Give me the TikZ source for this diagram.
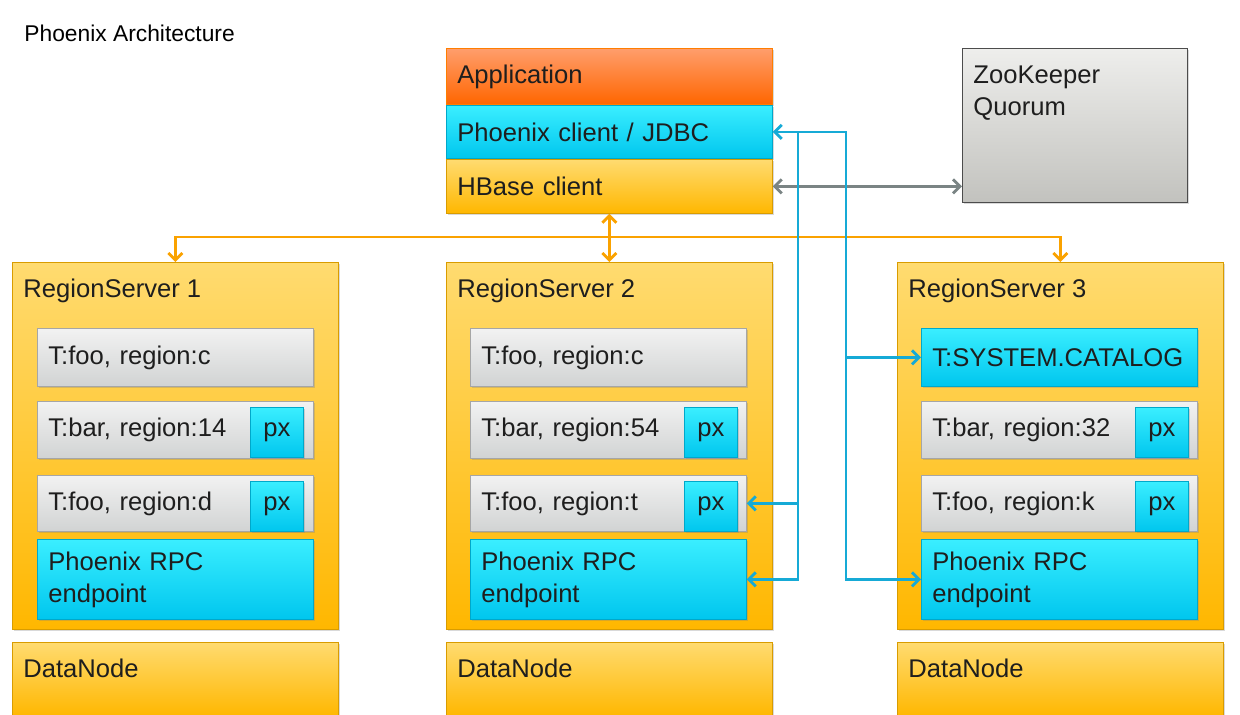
\documentclass[tikz,border=0pt]{standalone}
\usepackage{fontspec}
\setmainfont{Liberation Sans}
\usetikzlibrary{arrows.meta,shadows}

\definecolor{applight}{RGB}{255,158,108}
\definecolor{appdark}{RGB}{255,102,0}
\definecolor{cyanlight}{RGB}{58,238,255}
\definecolor{cyandark}{RGB}{0,198,238}
\definecolor{goldlight}{RGB}{255,219,112}
\definecolor{golddark}{RGB}{255,183,0}
\definecolor{greylight}{RGB}{242,242,242}
\definecolor{greydark}{RGB}{209,211,211}
\definecolor{zklight}{RGB}{238,238,236}
\definecolor{zkdark}{RGB}{194,194,190}
\definecolor{linkblue}{RGB}{22,170,214}
\definecolor{busorange}{RGB}{250,162,0}
\definecolor{zkgrey}{RGB}{122,132,132}
\definecolor{inkgrey}{RGB}{30,30,30}

\begin{document}
\begin{tikzpicture}[x=0.5pt, y=-0.5pt,
    txt/.style={font=\fontsize{12.8}{16}\selectfont, text=inkgrey},
    box/.style={rectangle, anchor=north west, inner xsep=5.5pt, inner ysep=0pt,
        align=left, txt, drop shadow={shadow xshift=0.7pt, shadow yshift=-0.9pt, opacity=0.3}},
    topbox/.style={box, minimum width=163pt, text width=152pt},
    rowbox/.style={box, minimum width=138pt, text width=127pt},
    appfill/.style={top color=applight, bottom color=appdark, draw=appdark!85!yellow},
    bluefill/.style={top color=cyanlight, bottom color=cyandark, draw=cyandark!85!black},
    goldfill/.style={top color=goldlight, bottom color=golddark, draw=golddark!85!black},
    greyfill/.style={top color=greylight, bottom color=greydark, draw=black!35},
    pxbox/.style={box, bluefill, align=center, minimum width=26.5pt, minimum height=25pt, inner xsep=0pt},
    link/.style={linkblue, line width=1.4pt, >={Straight Barb[length=3.5pt,width=7pt]}},
    busline/.style={busorange, line width=1.4pt, >={Straight Barb[length=3.5pt,width=7pt]}},
    zklink/.style={zkgrey, line width=1.4pt, >={Straight Barb[length=3.5pt,width=7pt]}}
]
    \useasboundingbox (0,0) rectangle (1240,714);

    % Title
    \node[anchor=base west, inner sep=0pt, font=\fontsize{11.4}{13}\selectfont] (title) at (24,41) {Phoenix Architecture};

    % Client stack
    \node[topbox, appfill, minimum height=28pt] (app) at (446,48) {Application};
    \node[topbox, bluefill, minimum height=26.5pt] (client) at (446,105) {Phoenix client / JDBC};
    \node[topbox, goldfill, minimum height=27pt] (hbase) at (446,159) {HBase client};

    % ZooKeeper
    \node[box, top color=zklight, bottom color=zkdark, draw=black!70, minimum width=112.5pt, minimum height=77pt] (zk) at (962,48) {};
    \node[txt, anchor=north west, inner sep=0pt, align=left] (zkname) at (973,65) {ZooKeeper\\Quorum};

    % Region servers and data nodes
    \foreach \i/\x in {1/12, 2/446, 3/897} {
        \node[topbox, goldfill, minimum height=183.5pt] (rs\i) at (\x,262) {};
        \node[topbox, goldfill, minimum height=37pt] (dn\i) at (\x,642) {};
        \node[txt, anchor=base west, inner sep=0pt] (rsname\i) at (\x+11,297) {RegionServer \i};
        \node[txt, anchor=base west, inner sep=0pt] (dnname\i) at (\x+11,677) {DataNode};
    }

    % RegionServer 1
    \node[rowbox, greyfill, minimum height=29pt] (rs1a) at (37,328) {T:foo, region:c};
    \node[rowbox, greyfill, minimum height=28.5pt] (rs1b) at (37,401) {T:bar, region:14};
    \node[rowbox, greyfill, minimum height=28pt] (rs1c) at (37,475) {T:foo, region:d};
    \node[rowbox, bluefill, minimum height=40pt] (rs1rpc) at (37,539) {Phoenix RPC\\endpoint};
    \node[pxbox] (rs1bpx) at (250,407) {px};
    \node[pxbox] (rs1cpx) at (250,481) {px};

    % RegionServer 2
    \node[rowbox, greyfill, minimum height=29pt] (rs2a) at (470,328) {T:foo, region:c};
    \node[rowbox, greyfill, minimum height=28.5pt] (rs2b) at (470,401) {T:bar, region:54};
    \node[rowbox, greyfill, minimum height=28pt] (rs2c) at (470,475) {T:foo, region:t};
    \node[rowbox, bluefill, minimum height=40pt] (rs2rpc) at (470,539) {Phoenix RPC\\endpoint};
    \node[pxbox] (rs2bpx) at (684,407) {px};
    \node[pxbox] (rs2cpx) at (684,481) {px};

    % RegionServer 3
    \node[rowbox, bluefill, minimum height=29pt] (rs3a) at (921,328) {T:SYSTEM.CATALOG};
    \node[rowbox, greyfill, minimum height=28.5pt] (rs3b) at (921,401) {T:bar, region:32};
    \node[rowbox, greyfill, minimum height=28pt] (rs3c) at (921,475) {T:foo, region:k};
    \node[rowbox, bluefill, minimum height=40pt] (rs3rpc) at (921,539) {Phoenix RPC\\endpoint};
    \node[pxbox] (rs3bpx) at (1135,407) {px};
    \node[pxbox] (rs3cpx) at (1135,481) {px};

    % HBase client to region servers
    \coordinate (busmid) at (hbase.south |- 0,237);
    \draw[busline, <->] (hbase.south) -- (rs2.north);
    \draw[busline, ->] (busmid) -| (rs1.north);
    \draw[busline, ->] (busmid) -| (rs3.north);

    % HBase client to ZooKeeper
    \draw[zklink, <->] (hbase.east) -- (hbase.east -| zk.west);

    % Phoenix client to catalog and endpoints
    \coordinate (railA) at (798,0);
    \coordinate (railB) at (846,0);
    \draw[link, <->] (client.east) -- (client.east -| railB) -- (rs3rpc.west -| railB) -- (rs3rpc.west);
    \draw[link, ->] (rs3a.west -| railB) -- (rs3a.west);
    \draw[link, ->] (client.east -| railA) -- (rs2rpc.east -| railA) -- (rs2rpc.east);
    \draw[link, ->] (rs2c.east -| railA) -- (rs2c.east);
\end{tikzpicture}
\end{document}
